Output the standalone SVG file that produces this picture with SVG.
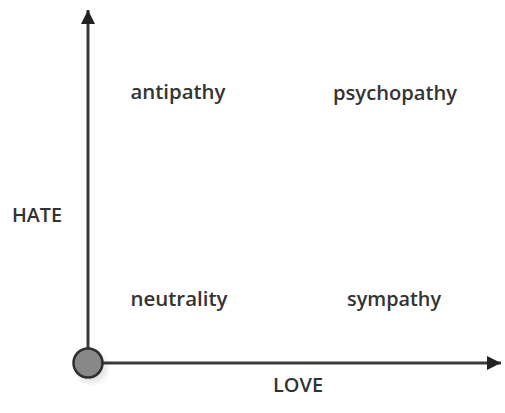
<svg xmlns="http://www.w3.org/2000/svg" width="505" height="413" viewBox="0 0 505 413">
<defs>
<style>
.lbl{font-family:"Open Sans","DejaVu Sans",sans-serif;font-weight:600;font-size:19px;fill:#333;text-anchor:middle}
.axis{stroke:#3a3a3a;stroke-width:3;fill:none}
</style>
<marker id="ah" markerWidth="16" markerHeight="14" refX="14" refY="7" orient="auto" markerUnits="userSpaceOnUse">
<path d="M0,0 L14,7 L0,14 Z" fill="#222"/>
</marker>
<radialGradient id="sh" cx="0.5" cy="0.5" r="0.5">
<stop offset="0" stop-color="#000" stop-opacity="0.25"/>
<stop offset="1" stop-color="#000" stop-opacity="0"/>
</radialGradient>
</defs>
<rect width="505" height="413" fill="#fff"/>
<g id="connectors">
<line class="axis" x1="88" y1="363" x2="88" y2="10" marker-end="url(#ah)"/>
<line class="axis" x1="88" y1="363" x2="501" y2="363" marker-end="url(#ah)"/>
</g>
<g id="origin">
<circle cx="92" cy="368" r="19" fill="url(#sh)"/>
<circle cx="88" cy="363" r="14.5" fill="#888" stroke="#2e2e2e" stroke-width="2.5"/>
</g>
<g id="antipathy"><text class="lbl" x="178" y="99" textLength="95" lengthAdjust="spacingAndGlyphs">antipathy</text></g>
<g id="psychopathy"><text class="lbl" x="395" y="100" textLength="124" lengthAdjust="spacingAndGlyphs">psychopathy</text></g>
<g id="neutrality"><text class="lbl" x="179" y="306" textLength="97" lengthAdjust="spacingAndGlyphs">neutrality</text></g>
<g id="sympathy"><text class="lbl" x="394" y="306" textLength="94" lengthAdjust="spacingAndGlyphs">sympathy</text></g>
<g id="hate"><text class="lbl" x="37" y="222" textLength="50" lengthAdjust="spacingAndGlyphs">HATE</text></g>
<g id="love"><text class="lbl" x="298" y="392" textLength="50" lengthAdjust="spacingAndGlyphs">LOVE</text></g>
</svg>
